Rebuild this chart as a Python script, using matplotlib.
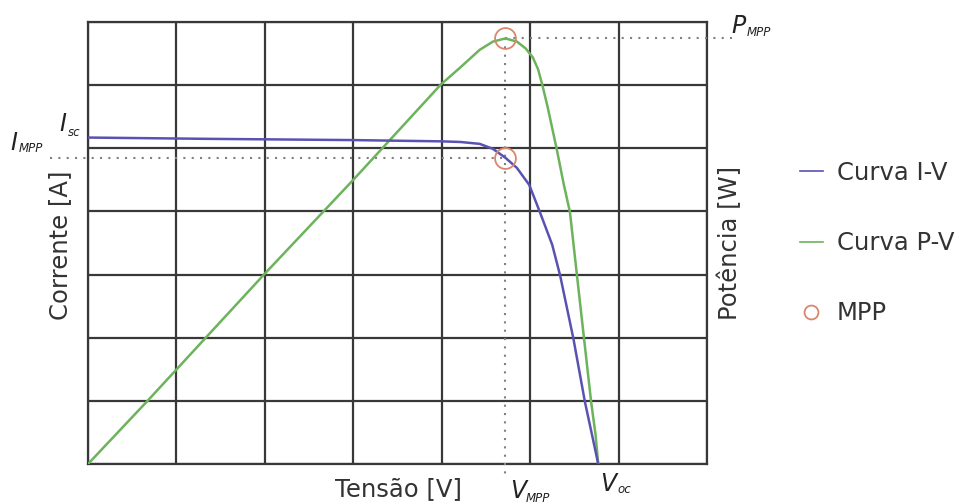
#!/usr/bin/env python3
"""
Curvas I-V e P-V de um modulo fotovoltaico com o ponto de maxima potencia (MPP)
"""

import matplotlib.pyplot as plt
from matplotlib.lines import Line2D

# grid units (7 x 7 grid, no numeric scale in the original)
v_iv = [0.0, 1.32, 2.99, 3.99, 4.21, 4.43, 4.58, 4.72, 4.85, 4.99, 5.11, 5.25, 5.34, 5.49, 5.62, 5.70, 5.77]
i_iv = [5.17, 5.15, 5.13, 5.11, 5.10, 5.07, 4.99, 4.85, 4.69, 4.42, 3.99, 3.47, 2.98, 1.98, 0.98, 0.46, 0.0]

v_pv = [0.0, 0.66, 1.99, 3.0, 3.99, 4.21, 4.43, 4.58, 4.72, 4.85, 4.95, 5.03, 5.09, 5.14, 5.20, 5.30,
        5.38, 5.45, 5.53, 5.61, 5.69, 5.74, 5.77]
p_pv = [0.0, 0.98, 3.00, 4.50, 6.01, 6.28, 6.56, 6.69, 6.74, 6.69, 6.58, 6.44, 6.25, 5.99, 5.64, 4.99,
        4.43, 3.99, 2.98, 1.98, 0.98, 0.46, 0.0]

v_mpp = 4.72
i_mpp = 4.85
p_mpp = 6.74

blue = '#5a52b2'
green = '#6cb35c'
mpp_color = '#d9876c'
grid_color = '#383838'
text_color = '#333333'

fig = plt.figure(figsize=(9.62, 5.04), dpi=100)
ax = fig.add_axes([88 / 962, 40 / 504, 619 / 962, 442 / 504])

ax.set_xlim(0, 7)
ax.set_ylim(0, 7)
ax.set_xticks(range(8))
ax.set_yticks(range(8))
ax.set_xticklabels([])
ax.set_yticklabels([])
ax.tick_params(length=0)
ax.grid(True, color=grid_color, linewidth=1.6)
for s in ax.spines.values():
    s.set_color(grid_color)
    s.set_linewidth(1.6)

# dotted guide lines to the MPP
dot = dict(color='#808080', linestyle=(0, (1, 3)), linewidth=1.5, clip_on=False, zorder=3)
ax.plot([-0.43, v_mpp], [i_mpp, i_mpp], **dot)
ax.plot([v_mpp, 7.28], [p_mpp, p_mpp], **dot)
ax.plot([v_mpp, v_mpp], [p_mpp, -0.2], **dot)

ax.plot(v_pv, p_pv, color=green, linewidth=1.8, zorder=4, solid_joinstyle='round')
ax.plot(v_iv, i_iv, color=blue, linewidth=1.8, zorder=5, solid_joinstyle='round')
ax.plot([v_mpp, v_mpp], [i_mpp, p_mpp], linestyle='none', marker='o', markersize=15,
        markerfacecolor='none', markeredgecolor=mpp_color, markeredgewidth=1.3, zorder=6)

# axis titles
fig.text(335 / 962, 1 - 489 / 504, 'Tensão [V]', fontsize=17.5, color=text_color, va='center', ha='left')
fig.text(60 / 962, 1 - 245 / 504, 'Corrente [A]', fontsize=17.5, color=text_color,
         rotation=90, va='center', ha='center')
fig.text(730 / 962, 1 - 243 / 504, 'Potência [W]', fontsize=17.5, color=text_color,
         rotation=90, va='center', ha='center')


def sub_label(x_px, y_px, main, sub, sub_dx, sub_dy):
    fig.text(x_px / 962, 1 - y_px / 504, main, fontsize=17, style='italic',
             color='#222222', ha='left', va='baseline')
    fig.text((x_px + sub_dx) / 962, 1 - (y_px + sub_dy) / 504, sub, fontsize=8.5,
             style='italic', color='#222222', ha='left', va='baseline')


sub_label(10, 150, 'I', 'MPP', 9, 2)
sub_label(59, 131, 'I', 'sc', 9, 5)
sub_label(731, 33, 'P', 'MPP', 16, 3)
sub_label(510, 498, 'V', 'MPP', 16, 4)
sub_label(600, 491, 'V', 'oc', 17, 2)

handles = [
    Line2D([], [], color=blue, linewidth=1.2),
    Line2D([], [], color=green, linewidth=1.2),
    Line2D([], [], linestyle='none', marker='o', markersize=10, markerfacecolor='none',
           markeredgecolor=mpp_color, markeredgewidth=1.3),
]
fig.legend(handles, ['Curva I-V', 'Curva P-V', 'MPP'], loc='upper left',
           bbox_to_anchor=(778 / 962, 1 - 139 / 504), frameon=False, fontsize=17.5,
           handlelength=0.95, handletextpad=0.58, labelspacing=1.9, labelcolor=text_color)

plt.savefig('out.png', dpi=100)
